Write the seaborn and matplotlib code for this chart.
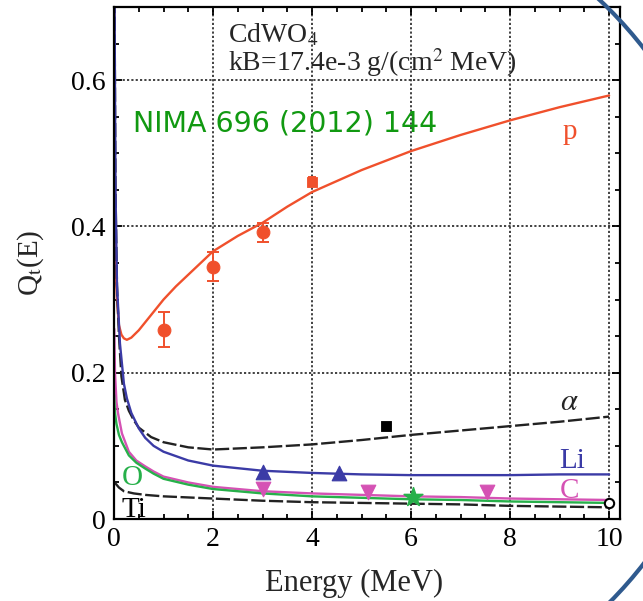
import numpy as np
import matplotlib
matplotlib.use("Agg")
import matplotlib.pyplot as plt
from matplotlib.patches import Arc
from matplotlib.ticker import MultipleLocator
import seaborn as sns

# curves: quenching factor vs energy
p_E = [0.005, 0.02, 0.04, 0.06, 0.1, 0.15, 0.2, 0.26, 0.35, 0.5, 0.75, 1.0, 1.25, 1.5,
       2.0, 2.5, 3.0, 3.5, 4.0, 5.0, 6.0, 7.0, 8.0, 9.0, 10.0]
p_Q = [0.72, 0.44, 0.33, 0.30, 0.265, 0.252, 0.247, 0.245, 0.248, 0.258, 0.279, 0.300, 0.318,
       0.334, 0.366, 0.387, 0.405, 0.427, 0.447, 0.477, 0.503, 0.525, 0.545, 0.563, 0.579]

alpha_E = [0.01, 0.03, 0.06, 0.1, 0.15, 0.22, 0.3, 0.4, 0.5, 0.75, 1.0, 1.5, 2.0, 3.0,
           4.0, 5.0, 6.0, 7.0, 8.0, 9.0, 10.0]
alpha_Q = [0.72, 0.45, 0.32, 0.25, 0.195, 0.163, 0.148, 0.135, 0.125, 0.112, 0.105, 0.098,
           0.095, 0.098, 0.102, 0.108, 0.115, 0.121, 0.127, 0.133, 0.140]

li_E = [0.01, 0.03, 0.06, 0.12, 0.2, 0.26, 0.35, 0.5, 0.63, 0.8, 1.0, 1.5, 2.0, 3.0,
        4.0, 5.0, 6.0, 7.0, 8.0, 9.0, 10.0]
li_Q = [0.72, 0.45, 0.32, 0.24, 0.185, 0.165, 0.145, 0.124, 0.111, 0.100, 0.092, 0.080,
        0.073, 0.066, 0.063, 0.061, 0.060, 0.060, 0.060, 0.061, 0.061]

c_E = [0.005, 0.02, 0.05, 0.08, 0.16, 0.3, 0.45, 0.63, 0.8, 1.0, 1.5, 2.0, 3.0, 4.0,
       5.0, 6.0, 7.0, 8.0, 9.0, 10.0]
c_Q = [0.26, 0.2, 0.16, 0.145, 0.117, 0.092, 0.080, 0.072, 0.065, 0.058, 0.050, 0.044,
       0.038, 0.035, 0.033, 0.031, 0.030, 0.028, 0.027, 0.026]

o_E = [0.0, 0.02, 0.05, 0.1, 0.16, 0.3, 0.45, 0.63, 0.8, 1.0, 1.5, 2.0, 3.0, 4.0,
       5.0, 6.0, 7.0, 8.0, 9.0, 10.0]
o_Q = [0.17, 0.145, 0.13, 0.115, 0.105, 0.087, 0.077, 0.069, 0.062, 0.055, 0.047, 0.041,
       0.035, 0.031, 0.029, 0.027, 0.026, 0.024, 0.023, 0.022]

ti_E = [0.0, 0.05, 0.1, 0.2, 0.4, 0.63, 1.0, 2.0, 3.0, 4.0, 5.0, 6.0, 7.0, 8.0, 9.0, 10.0]
ti_Q = [0.051, 0.047, 0.043, 0.038, 0.035, 0.033, 0.031, 0.028, 0.025, 0.023, 0.022,
        0.021, 0.020, 0.018, 0.017, 0.016]

# measured points
p_pts_E = [1.0, 2.0, 3.0]
p_pts_Q = [0.259, 0.345, 0.392]
p_pts_err = [0.024, 0.02, 0.013]
p_sq_E = [4.0]
p_sq_Q = [0.461]
p_sq_err = [0.006]
alpha_pts_E = [5.5]
alpha_pts_Q = [0.127]
li_pts_E = [3.0, 4.55]
li_pts_Q = [0.064, 0.063]
c_pts_E = [3.0, 5.14, 7.54]
c_pts_Q = [0.041, 0.037, 0.037]
o_pts_E = [6.03]
o_pts_Q = [0.030]
ti_pts_E = [10.0]
ti_pts_Q = [0.022]

x_ticks = [0, 2, 4, 6, 8, 10]
y_ticks = [0, 0.2, 0.4, 0.6]
y_ticklabels = ["0", "0.2", "0.4", "0.6"]

RED = "#f0502c"
BLUE = "#3b3ba6"
MAG = "#d552b4"
GRN = "#27b04a"

sns.set_style("ticks")
plt.rcParams["font.family"] = ["Liberation Serif", "DejaVu Serif"]
plt.rcParams["mathtext.fontset"] = "stix"

fig = plt.figure(figsize=(6.43, 6.01), dpi=100)
ax = fig.add_axes([0.1773, 0.1364, 0.7869, 0.852])

ax.grid(True, which="major", color="#333333", linestyle=(0, (1.2, 1.2)), linewidth=1.3, zorder=0)
ax.set_axisbelow(True)

sns.lineplot(x=p_E, y=p_Q, color=RED, lw=1.7, sort=False, estimator=None, ax=ax)
sns.lineplot(x=alpha_E, y=alpha_Q, color="#222222", lw=1.7, linestyle=(0, (6, 1.5)),
             sort=False, estimator=None, ax=ax)
sns.lineplot(x=li_E, y=li_Q, color=BLUE, lw=1.7, sort=False, estimator=None, ax=ax)
sns.lineplot(x=c_E, y=c_Q, color=MAG, lw=1.7, sort=False, estimator=None, ax=ax)
sns.lineplot(x=o_E, y=o_Q, color=GRN, lw=1.7, sort=False, estimator=None, ax=ax)
sns.lineplot(x=ti_E, y=ti_Q, color="#222222", lw=1.7, linestyle=(0, (6, 1.5)),
             sort=False, estimator=None, ax=ax)

ax.errorbar(p_pts_E, p_pts_Q, yerr=p_pts_err, fmt="none", ecolor=RED, elinewidth=1.4,
            capsize=4, capthick=1.4, zorder=4)
ax.errorbar(p_sq_E, p_sq_Q, yerr=p_sq_err, fmt="none", ecolor=RED, elinewidth=1.4,
            capsize=3, capthick=1.4, zorder=4)
sns.scatterplot(x=p_pts_E, y=p_pts_Q, marker="o", s=85, color=RED, edgecolor=RED, ax=ax, zorder=5)
sns.scatterplot(x=p_sq_E, y=p_sq_Q, marker="s", s=60, color=RED, edgecolor=RED, ax=ax, zorder=5)
sns.scatterplot(x=alpha_pts_E, y=alpha_pts_Q, marker="s", s=60, color="black", edgecolor="black",
                ax=ax, zorder=5)
sns.scatterplot(x=li_pts_E, y=li_pts_Q, marker="^", s=110, color=BLUE, edgecolor=BLUE, ax=ax, zorder=5)
sns.scatterplot(x=c_pts_E, y=c_pts_Q, marker="v", s=110, color=MAG, edgecolor=MAG, ax=ax, zorder=5)
sns.scatterplot(x=o_pts_E, y=o_pts_Q, marker="*", s=200, color=GRN, edgecolor=GRN, ax=ax, zorder=5)
sns.scatterplot(x=ti_pts_E, y=ti_pts_Q, marker="o", s=45, facecolor="white", edgecolor="black",
                linewidth=1.5, ax=ax, zorder=6, clip_on=False)

ax.set_xlim(0, 10.22)
ax.set_ylim(0, 0.70)
ax.set_xticks(x_ticks)
ax.set_xticklabels([str(t) for t in x_ticks], fontsize=20)
ax.set_yticks(y_ticks)
ax.set_yticklabels(y_ticklabels, fontsize=20)
ax.xaxis.set_minor_locator(MultipleLocator(0.5))
ax.yaxis.set_minor_locator(MultipleLocator(0.05))
ax.tick_params(which="both", direction="in", top=True, right=True, width=1.3, colors="black")
ax.tick_params(which="major", length=6, pad=6)
ax.tick_params(which="minor", length=3.5)
for s in ax.spines.values():
    s.set_linewidth(1.6)
    s.set_color("black")

ax.set_xlabel("Energy (MeV)", fontsize=22)
ax.set_ylabel(r"Q$_\mathrm{t}$(E)", fontsize=21)
ax.xaxis.set_label_coords(0.475, -0.097)
ax.yaxis.set_label_coords(-0.135, 0.5)

ax.text(2.3, 0.652, "CdWO$_4$", fontsize=20)
ax.text(2.3, 0.612, "kB=17.4e-3 g/(cm$^2$ MeV)", fontsize=20)
ax.text(0.38, 0.530, "NIMA 696 (2012) 144", fontsize=20.5, color="#119911", family="DejaVu Sans")
ax.text(9.2, 0.519, "p", fontsize=21, color=RED, ha="center")
ax.text(9.2, 0.149, r"$\alpha$", fontsize=22, ha="center")
ax.text(9.25, 0.070, "Li", fontsize=21, color=BLUE, ha="center")
ax.text(9.2, 0.029, "C", fontsize=21, color=MAG, ha="center")
ax.text(0.16, 0.047, "O", fontsize=21, color=GRN)
ax.text(0.16, 0.003, "Ti", fontsize=21, color="black")

# decorative slide arc on the right edge
deco = fig.add_axes([0, 0, 1, 1], facecolor="none")
deco.set_xlim(0, 643)
deco.set_ylim(0, 601)
deco.axis("off")
deco.add_patch(Arc((312, 295), 840, 840, theta1=-60, theta2=60, color="#2f5a8e", lw=3))

fig.savefig("out.png", dpi=100, facecolor="white")
